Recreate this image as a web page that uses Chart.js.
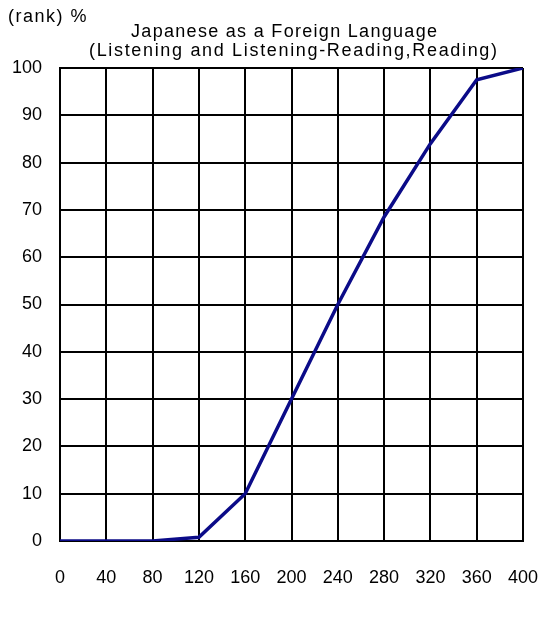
<!DOCTYPE html>
<html lang="en">
<head>
    <meta charset="UTF-8">
    <title>Japanese as a Foreign Language</title>
    <style>
        body { margin: 0; background: #fff; }
        #wrap { width: 544px; height: 619px; }
    </style>
    <script src="https://cdn.jsdelivr.net/npm/chart.js"></script>
</head>
<body>
<div id="wrap"><canvas id="rankChart" width="544" height="619"></canvas></div>
<script>
    // score (x) and cumulative rank % (y)
    const scores = [0, 40, 80, 120, 160, 200, 240, 280, 320, 360, 400];
    const rankPct = [0, 0, 0, 0.8, 10, 30, 50, 68.5, 84, 97.5, 100];
    const titleLines = ['Japanese as a Foreign Language', '(Listening and Listening-Reading,Reading)'];
    const unitLabel = '(rank) %';

    const fontName = '"Liberation Sans", Arial, sans-serif';

    // squeeze/stretch a text line to the width it has in the original
    function fitText(ctx, txt, cx, cy, width) {
        ctx.letterSpacing = '0px';
        const w = ctx.measureText(txt).width;
        const sp = (width - w) / (txt.length - 1);
        ctx.letterSpacing = sp.toFixed(2) + 'px';
        ctx.fillText(txt, cx + sp / 2, cy);
    }

    // Title + unit text drawn on the canvas
    const headerPlugin = {
        id: 'headerPlugin',
        afterDraw: function(chart) {
            const ctx = chart.ctx;
            ctx.save();
            ctx.fillStyle = '#000';
            ctx.textBaseline = 'middle';
            ctx.font = '18px ' + fontName;
            ctx.textAlign = 'left';
            ctx.letterSpacing = '1.5px';
            ctx.fillText(unitLabel, 8, 17);
            ctx.textAlign = 'center';
            fitText(ctx, titleLines[0], 284, 32, 306);
            fitText(ctx, titleLines[1], 293, 51, 408);
            ctx.restore();
        }
    };

    const points = scores.map((s, i) => ({ x: s, y: rankPct[i] }));

    new Chart(document.getElementById('rankChart').getContext('2d'), {
        type: 'line',
        data: {
            datasets: [{
                data: points,
                borderColor: '#0b0b88',
                borderWidth: 3.5,
                pointRadius: 0,
                tension: 0,
                fill: false
            }]
        },
        options: {
            responsive: false,
            animation: false,
            layout: { padding: { top: 68, right: 0, left: 0, bottom: 0 } },
            plugins: {
                legend: { display: false },
                tooltip: { enabled: false }
            },
            scales: {
                x: {
                    type: 'linear',
                    min: 0,
                    max: 400,
                    afterFit: function(scale) { scale.height = 78; scale.paddingRight = 21; },
                    grid: { color: '#000', lineWidth: 2, drawTicks: false },
                    border: { color: '#000', width: 2 },
                    ticks: {
                        stepSize: 40,
                        padding: 26,
                        color: '#000',
                        font: { family: fontName, size: 18 },
                        maxRotation: 0
                    }
                },
                y: {
                    min: 0,
                    max: 100,
                    afterFit: function(scale) { scale.width = 60; },
                    grid: { color: '#000', lineWidth: 2, drawTicks: false },
                    border: { color: '#000', width: 2 },
                    ticks: {
                        stepSize: 10,
                        padding: 18,
                        color: '#000',
                        font: { family: fontName, size: 18 }
                    }
                }
            }
        },
        plugins: [headerPlugin]
    });
</script>
</body>
</html>
